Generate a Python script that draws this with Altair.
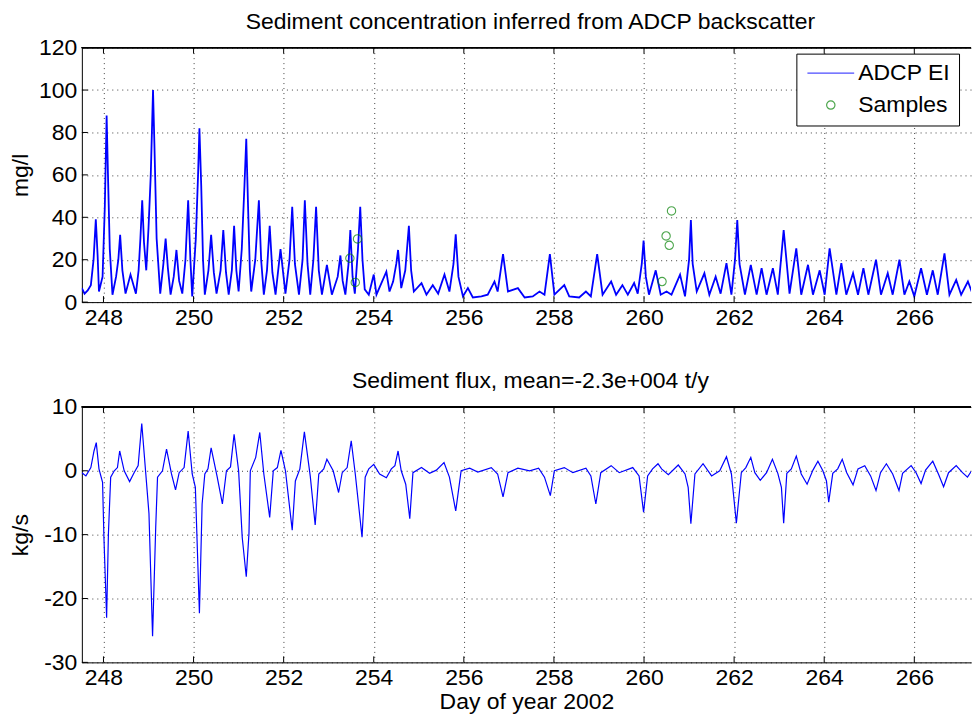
import altair as alt
import pandas as pd

FONT = "Liberation Sans"
FS = 23
W = 891
H1 = 255
H2 = 256
DAY_PX = 45.14
X0 = 247.52
X1 = X0 + W / DAY_PX

# ---- data ----
conc_days = [
    247.52, 247.58, 247.65, 247.72, 247.78, 247.83, 247.87, 247.90, 247.98, 248.03,
    248.07, 248.10, 248.14, 248.20, 248.28, 248.33, 248.37, 248.42, 248.49, 248.60,
    248.72, 248.78, 248.82, 248.86, 248.90, 248.95, 249.00, 249.05, 249.10, 249.13,
    249.18, 249.26, 249.33, 249.38, 249.43, 249.49, 249.56, 249.62, 249.68, 249.75,
    249.82, 249.88, 249.93, 249.97, 250.05, 250.10, 250.13, 250.17, 250.21, 250.25,
    250.33, 250.39, 250.45, 250.51, 250.60, 250.66, 250.72, 250.78, 250.85, 250.90,
    250.95, 251.00, 251.07, 251.13, 251.17, 251.21, 251.25, 251.28, 251.37, 251.45,
    251.50, 251.56, 251.63, 251.69, 251.75, 251.82, 251.93, 252.04, 252.13, 252.19,
    252.25, 252.34, 252.42, 252.47, 252.53, 252.59, 252.66, 252.72, 252.78, 252.85,
    252.96, 253.07, 253.20, 253.26, 253.31, 253.37, 253.44, 253.48, 253.53, 253.58,
    253.65, 253.70, 253.75, 253.80, 253.89, 254.00, 254.06, 254.17, 254.28, 254.35,
    254.43, 254.50, 254.54, 254.61, 254.70, 254.78, 254.83, 254.89, 255.06, 255.17,
    255.31, 255.43, 255.57, 255.68, 255.77, 255.82, 255.88, 255.98, 256.09, 256.20,
    256.39, 256.53, 256.68, 256.75, 256.87, 256.98, 257.20, 257.35, 257.53, 257.68,
    257.79, 257.91, 258.01, 258.23, 258.34, 258.56, 258.71, 258.82, 258.96, 259.08,
    259.27, 259.38, 259.52, 259.64, 259.78, 259.86, 259.95, 259.99, 260.04, 260.11,
    260.26, 260.37, 260.50, 260.61, 260.80, 260.91, 261.00, 261.04, 261.08, 261.17,
    261.34, 261.45, 261.59, 261.70, 261.83, 261.94, 262.02, 262.07, 262.12, 262.24,
    262.37, 262.50, 262.61, 262.72, 262.86, 262.97, 263.10, 263.23, 263.38, 263.49,
    263.64, 263.75, 263.90, 264.01, 264.12, 264.27, 264.38, 264.49, 264.64, 264.75,
    264.87, 264.98, 265.15, 265.26, 265.41, 265.52, 265.67, 265.78, 265.89, 266.00,
    266.15, 266.28, 266.41, 266.52, 266.67, 266.78, 266.93, 267.04, 267.19, 267.30,
    267.37,
]
conc_vals = [
    6.6, 4.0, 5.5, 8.0, 20.0, 39.0, 22.0, 5.0, 12.0, 45.0,
    88.0, 60.0, 25.0, 3.5, 12.0, 20.0, 31.7, 15.0, 4.0, 13.0,
    4.0, 15.0, 30.0, 48.0, 28.0, 15.0, 35.0, 60.0, 100.0, 75.0,
    30.0, 4.0, 18.0, 30.0, 16.0, 3.5, 12.0, 24.6, 10.0, 4.0,
    20.0, 48.0, 20.0, 2.7, 30.0, 60.0, 82.0, 55.0, 20.0, 3.5,
    15.0, 31.7, 14.0, 4.0, 15.0, 34.0, 14.0, 3.5, 15.0, 36.0,
    15.0, 5.0, 25.0, 55.0, 77.0, 45.0, 15.0, 5.0, 20.0, 48.0,
    20.0, 3.5, 15.0, 36.0, 14.0, 3.5, 25.0, 4.0, 20.0, 45.0,
    18.0, 3.5, 20.0, 48.0, 18.0, 3.5, 20.0, 45.0, 15.0, 3.5,
    17.6, 3.5, 12.0, 22.0, 10.0, 3.5, 18.0, 34.0, 12.0, 4.0,
    25.0, 45.0, 20.0, 6.0, 3.5, 13.0, 3.5, 9.0, 14.4, 5.0,
    9.7, 18.0, 24.6, 6.6, 15.0, 36.0, 15.0, 5.0, 9.0, 3.5,
    8.0, 4.0, 13.0, 5.0, 18.0, 32.0, 12.0, 2.7, 6.6, 2.2,
    2.7, 3.5, 9.7, 5.0, 22.6, 5.0, 6.6, 2.2, 2.7, 5.0,
    3.5, 22.6, 3.5, 8.0, 2.7, 2.2, 5.0, 2.7, 22.6, 3.5,
    9.7, 3.5, 8.0, 3.5, 9.0, 4.0, 18.0, 29.0, 12.0, 3.5,
    15.0, 3.5, 5.0, 3.5, 13.0, 2.7, 20.0, 38.7, 18.0, 5.0,
    13.6, 3.5, 12.0, 4.0, 18.4, 3.5, 20.0, 38.7, 18.0, 3.5,
    17.6, 3.5, 16.0, 3.5, 16.0, 3.5, 34.0, 4.0, 25.4, 3.5,
    17.6, 3.5, 15.0, 3.5, 25.4, 3.5, 18.4, 3.5, 13.6, 3.5,
    16.0, 3.5, 20.0, 3.5, 13.6, 3.5, 20.0, 3.5, 9.7, 2.7,
    16.0, 3.5, 15.0, 3.5, 23.0, 3.5, 10.5, 3.5, 9.7, 3.5,
    5.0,
]

sample_days = [253.47, 253.59, 253.64, 260.40, 260.49, 260.56, 260.61]
sample_vals = [20.7, 9.3, 29.8, 9.7, 31.2, 26.8, 43.0]

flux_days = [
    247.52, 247.61, 247.72, 247.79, 247.84, 247.90, 247.98, 248.01, 248.07, 248.11,
    248.16, 248.24, 248.31, 248.36, 248.46, 248.58, 248.68, 248.77, 248.85, 248.94,
    249.01, 249.09, 249.16, 249.20, 249.31, 249.40, 249.51, 249.60, 249.68, 249.79,
    249.88, 249.97, 250.04, 250.13, 250.19, 250.25, 250.32, 250.39, 250.52, 250.64,
    250.73, 250.82, 250.90, 251.00, 251.08, 251.17, 251.23, 251.26, 251.38, 251.47,
    251.56, 251.69, 251.77, 251.86, 251.94, 252.04, 252.19, 252.26, 252.36, 252.46,
    252.59, 252.70, 252.78, 252.89, 252.96, 253.10, 253.22, 253.30, 253.41, 253.50,
    253.59, 253.74, 253.81, 253.89, 254.00, 254.13, 254.28, 254.39, 254.47, 254.54,
    254.61, 254.71, 254.80, 254.87, 255.06, 255.24, 255.39, 255.56, 255.68, 255.82,
    255.94, 256.13, 256.31, 256.61, 256.75, 256.87, 256.98, 257.20, 257.46, 257.66,
    257.79, 257.92, 258.01, 258.23, 258.42, 258.71, 258.82, 258.93, 259.04, 259.27,
    259.45, 259.75, 259.89, 259.99, 260.08, 260.19, 260.31, 260.39, 260.54, 260.76,
    260.91, 260.98, 261.04, 261.13, 261.31, 261.50, 261.68, 261.83, 261.94, 262.05,
    262.16, 262.26, 262.37, 262.46, 262.58, 262.72, 262.85, 262.97, 263.05, 263.10,
    263.17, 263.27, 263.38, 263.49, 263.62, 263.75, 263.86, 263.97, 264.05, 264.10,
    264.19, 264.30, 264.40, 264.50, 264.64, 264.75, 264.90, 265.03, 265.15, 265.25,
    265.38, 265.52, 265.66, 265.74, 265.93, 266.04, 266.15, 266.25, 266.41, 266.54,
    266.65, 266.76, 266.93, 267.07, 267.18, 267.30, 267.37,
]
flux_vals = [
    -0.3, -0.8, 0.5, 3.1, 4.4, 0.3, -1.8, -10.4, -23.0, -9.8,
    -1.0, 0.0, 0.5, 3.1, 0.0, -1.7, -0.3, 0.8, 7.4, -0.5,
    -6.7, -25.9, -8.8, -1.0, 0.0, 3.4, -0.5, -3.0, -0.3, 0.5,
    6.2, -0.5, -2.6, -22.3, -5.2, -0.5, 0.3, 3.6, -0.8, -5.2,
    0.0, 0.6, 5.7, 0.0, -10.4, -16.6, -9.8, 0.0, 2.1, 6.0,
    -0.5, -7.3, 0.0, 0.5, 3.2, 0.0, -9.3, -1.6, 0.3, 6.1,
    -0.8, -8.5, -0.5, 0.3, 1.8, 0.0, -3.4, -0.3, 0.5, 4.7,
    -0.5, -10.4, -1.0, 0.3, 1.0, -0.5, -1.1, 0.3, 0.8, 3.1,
    0.0, -2.1, -7.5, -0.3, 0.5, -0.4, 0.1, 1.3, -1.0, -6.3,
    0.0, 0.4, -0.2, 0.5, -0.5, -4.1, -0.3, 0.4, 0.0, 0.4,
    -1.0, -3.9, 0.0, 0.5, -0.3, 0.4, -0.8, -5.2, -0.3, 0.8,
    -0.3, 0.5, -0.8, -6.5, -0.8, 0.3, 1.1, 0.3, -0.6, 0.9,
    -0.5, -2.6, -8.3, -0.5, 1.1, -0.8, 0.0, 2.2, -0.5, -8.2,
    -0.3, 0.5, 2.1, -0.3, -1.5, -0.3, 1.8, -0.4, -2.6, -8.2,
    -0.4, 0.3, 2.3, -0.5, -2.1, 0.1, 1.5, 0.0, -1.6, -4.9,
    -0.4, 0.3, 1.8, -0.3, -2.2, 0.3, 0.8, -0.8, -3.1, -0.3,
    1.1, -0.5, -3.1, -0.4, 0.8, -0.3, -2.0, 0.1, 1.5, -0.6,
    -2.5, -0.3, 0.8, -0.3, -1.0, 0.3, 0.1,
]

x_ticks = [248, 250, 252, 254, 256, 258, 260, 262, 264, 266]
y1_ticks = [0, 20, 40, 60, 80, 100, 120]
y2_ticks = [-30, -20, -10, 0, 10]
series_names = ["ADCP EI", "Samples"]

# ---- tables ----
df_conc = pd.DataFrame({"day": conc_days, "val": conc_vals, "series": series_names[0]})
df_samp = pd.DataFrame({"day": sample_days, "val": sample_vals, "series": series_names[1]})
df_flux = pd.DataFrame({"day": flux_days, "val": flux_vals})
df_xt = pd.DataFrame({"t": x_ticks})
df_y1t = pd.DataFrame({"t": y1_ticks})
df_y2t = pd.DataFrame({"t": y2_ticks})

xscale = alt.Scale(domain=[X0, X1], nice=False, zero=False)
grid_kw = dict(grid=True, gridColor="#000000", gridDash=[1, 4], gridOpacity=0.75, gridWidth=1)


def x_axis(title=None):
    return alt.Axis(values=x_ticks, title=title, ticks=False, labelPadding=4,
                    titlePadding=1, labelExpr="'' + datum.value", **grid_kw)


def y_axis(vals, title):
    return alt.Axis(values=vals, title=title, ticks=False, labelPadding=5,
                    labelExpr="'' + datum.value", minExtent=44, maxExtent=44,
                    titlePadding=5, **grid_kw)


def frame_layers(df_yt, yfield_scale, h):
    top_rule = alt.Chart(df_xt).mark_rule(color="black", strokeWidth=1).encode(
        x=alt.value(0), x2=alt.value(W), y=alt.value(0))
    xt_bot = alt.Chart(df_xt).mark_rule(color="black").encode(
        x=alt.X("t:Q", scale=xscale), y=alt.value(h), y2=alt.value(h - 6))
    xt_top = alt.Chart(df_xt).mark_rule(color="black").encode(
        x=alt.X("t:Q", scale=xscale), y=alt.value(0), y2=alt.value(6))
    yt_left = alt.Chart(df_yt).mark_rule(color="black").encode(
        y=alt.Y("t:Q", scale=yfield_scale), x=alt.value(0), x2=alt.value(6))
    return [top_rule, xt_bot, xt_top, yt_left]


# ---- top panel ----
y1scale = alt.Scale(domain=[0, 120], nice=False, zero=False)
leg = alt.Legend(title=None, orient="none", legendX=716, legendY=6,
                 strokeColor="black", fillColor="white", padding=8,
                 labelFont=FONT, labelFontSize=FS, labelColor="black",
                 symbolSize=70, symbolOffset=15, labelOffset=16,
                 rowPadding=8, symbolStrokeWidth=1.2, cornerRadius=0)
color_scale = alt.Scale(domain=series_names, range=["#0000ff", "#008000"])
shape_scale = alt.Scale(domain=series_names, range=["M -5.6 0 L 5.6 0", "circle"])

conc_line = alt.Chart(df_conc).mark_line(strokeWidth=1.8, clip=True).encode(
    x=alt.X("day:Q", scale=xscale, axis=x_axis()),
    y=alt.Y("val:Q", scale=y1scale, axis=y_axis(y1_ticks, "mg/l")),
    color=alt.Color("series:N", scale=color_scale, legend=leg),
)
samp_pts = alt.Chart(df_samp).mark_point(filled=False, strokeWidth=1.1, size=70, clip=True).encode(
    x=alt.X("day:Q", scale=xscale),
    y=alt.Y("val:Q", scale=y1scale),
    color=alt.Color("series:N", scale=color_scale, legend=leg),
    shape=alt.Shape("series:N", scale=shape_scale, legend=leg),
)

top = alt.layer(conc_line, samp_pts, *frame_layers(df_y1t, y1scale, H1)).properties(
    width=W, height=H1,
    title=alt.Title("Sediment concentration inferred from ADCP backscatter", anchor="middle", dx=4),
)

# ---- bottom panel ----
y2scale = alt.Scale(domain=[-30, 10], nice=False, zero=False)
flux_line = alt.Chart(df_flux).mark_line(strokeWidth=1.2, color="#0000ff", clip=True).encode(
    x=alt.X("day:Q", scale=xscale, axis=x_axis("Day of year 2002")),
    y=alt.Y("val:Q", scale=y2scale, axis=y_axis(y2_ticks, "kg/s")),
)
bottom = alt.layer(flux_line, *frame_layers(df_y2t, y2scale, H2)).properties(
    width=W, height=H2,
    title=alt.Title("Sediment flux, mean=-2.3e+004 t/y", anchor="middle", dx=4),
)

chart = alt.vconcat(top, bottom, spacing=41).properties(
    padding={"left": 2, "top": 2, "right": 0, "bottom": 0},
    background="white",
).configure_view(stroke=None).configure_axis(
    labelFont=FONT, labelFontSize=FS, labelColor="black",
    titleFont=FONT, titleFontSize=FS, titleColor="black", titleFontWeight="normal",
    domainColor="black", domainWidth=1,
).configure_title(
    font=FONT, fontSize=FS, fontWeight="normal", color="black", offset=3,
)

chart.save("out.html", embed_options={"renderer": "svg", "actions": False})
